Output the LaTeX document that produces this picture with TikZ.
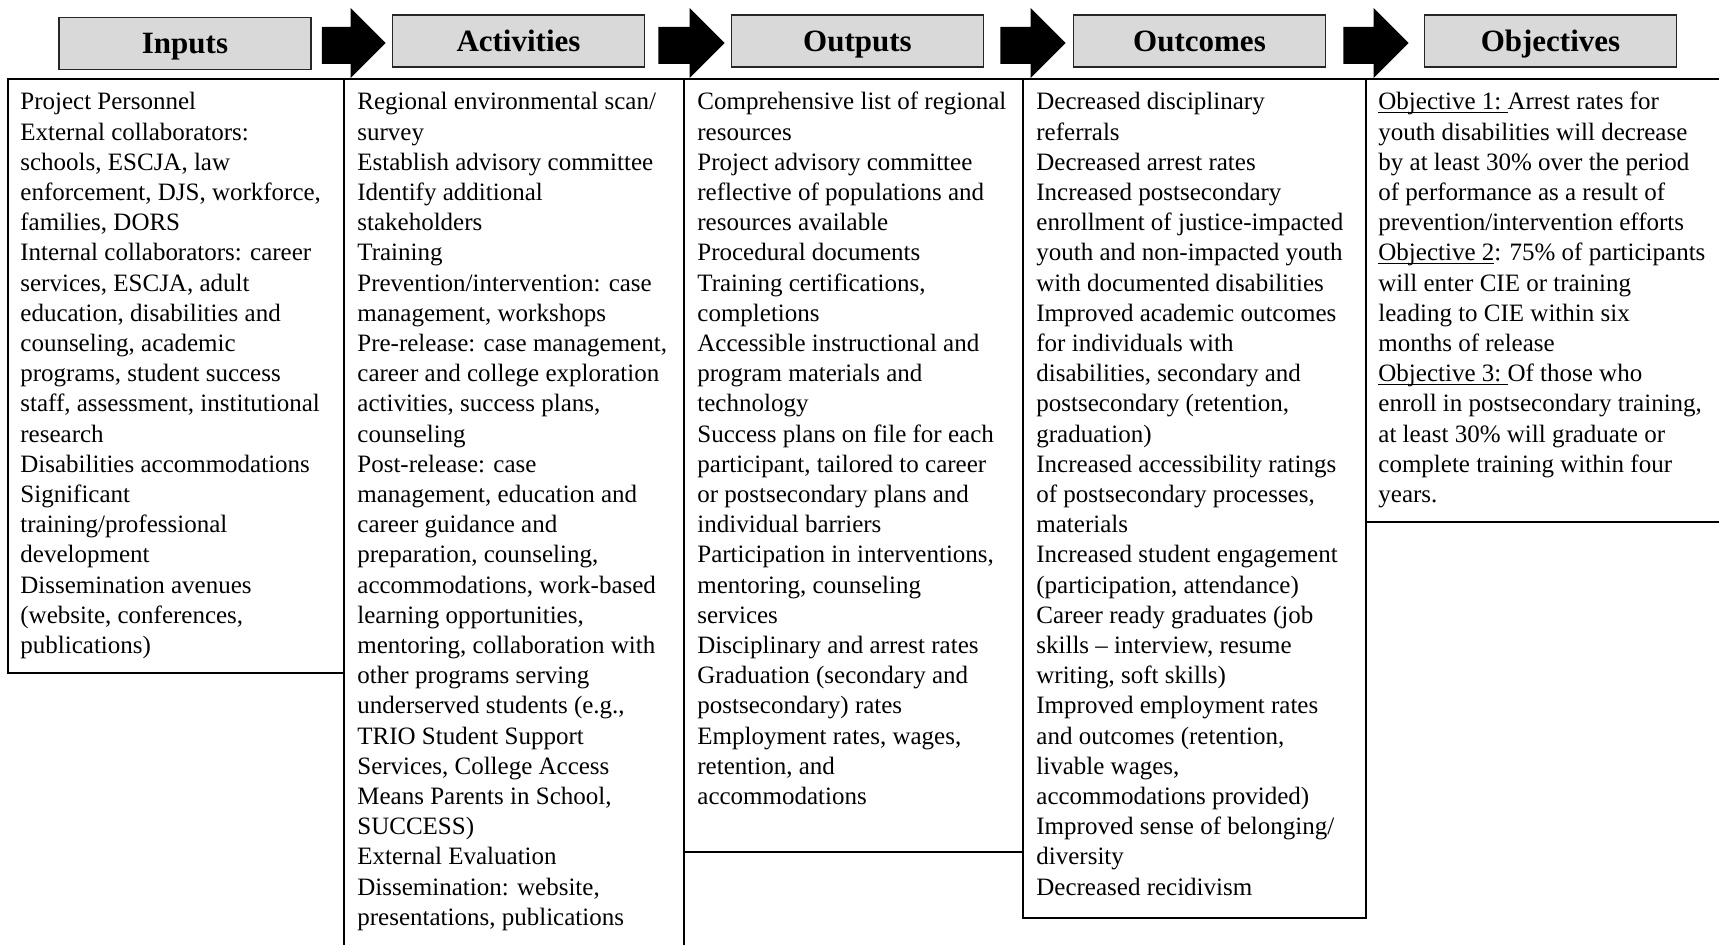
\documentclass[tikz,border=0pt]{standalone}
\usepackage{fontspec}
\setmainfont{Liberation Serif}
\usetikzlibrary{calc}

\definecolor{headgray}{RGB}{217,217,217}

% one column of text, lines broken by hand
\newcommand{\colpar}[1]{\begin{tabular}[t]{@{}l@{}}#1\end{tabular}}
% underline set close to the baseline
\newcommand{\objline}[1]{\setbox0\hbox{#1}\rlap{\rule[-1.6pt]{\wd0}{0.55pt}}\box0}

\tikzset{
  header/.style={draw=black!85, line width=0.9pt, fill=headgray,
    minimum width=126pt, minimum height=26pt, inner sep=0pt,
    font=\fontsize{15.5pt}{18pt}\selectfont\bfseries,
    text height=10.5pt, text depth=0pt},
  colbox/.style={draw=black, line width=1pt},
  coltext/.style={anchor=base west, inner sep=0pt,
    font=\fontsize{12.5pt}{15.1pt}\selectfont},
  flowarrow/.style={fill=black},
}

\begin{document}
\begin{tikzpicture}[x=0.5pt, y=-0.5pt]
\useasboundingbox (0,0) rectangle (1719,945);

% column frames
\draw[colbox] (8,79) rectangle (344,673);
\draw[colbox] (344,79) rectangle (684,960);
\draw[colbox] (684,79) rectangle (1023,852);
\draw[colbox] (1023,79) rectangle (1366,918);
\draw[colbox] (1366,79) rectangle (1730,522);

% stage headers
\node[header] (inputs)     at (185,43.5)  {Inputs};
\node[header] (activities) at (518.5,41)  {Activities};
\node[header] (outputs)    at (857.5,41)  {Outputs};
\node[header] (outcomes)   at (1199.5,41) {Outcomes};
\node[header] (objectives) at (1550.5,41) {Objectives};

% block arrows between the headers
\foreach \a/\b/\s/\e in {inputs/activities/10/6, activities/outputs/13/6,
                         outputs/outcomes/16/7, outcomes/objectives/17/15}{
  \fill[flowarrow] let \p1=(\a.east), \p2=(\b.west) in
    (\x1+\s*0.5pt, -13.5pt) -- (\x2-\e*0.5pt-17.5pt, -13.5pt)
    -- (\x2-\e*0.5pt-17.5pt, -4pt) -- (\x2-\e*0.5pt, -21.5pt)
    -- (\x2-\e*0.5pt-17.5pt, -39pt) -- (\x2-\e*0.5pt-17.5pt, -32pt)
    -- (\x1+\s*0.5pt, -32pt) -- cycle;
}

% column contents
\node[coltext] (inputsText) at (20,110) {\colpar{%
Project Personnel\\
External collaborators:\\
schools, ESCJA, law\\
enforcement, DJS, workforce,\\
families, DORS\\
Internal collaborators: career\\
services, ESCJA, adult\\
education, disabilities and\\
counseling, academic\\
programs, student success\\
staff, assessment, institutional\\
research\\
Disabilities accommodations\\
Significant\\
training/professional\\
development\\
Dissemination avenues\\
(website, conferences,\\
publications)}};

\node[coltext] (activitiesText) at (357,110) {\colpar{%
Regional environmental scan/\\
survey\\
Establish advisory committee\\
Identify additional\\
stakeholders\\
Training\\
Prevention/intervention: case\\
management, workshops\\
Pre-release: case management,\\
career and college exploration\\
activities, success plans,\\
counseling\\
Post-release: case\\
management, education and\\
career guidance and\\
preparation, counseling,\\
accommodations, work-based\\
learning opportunities,\\
mentoring, collaboration with\\
other programs serving\\
underserved students (e.g.,\\
TRIO Student Support\\
Services, College Access\\
Means Parents in School,\\
SUCCESS)\\
External Evaluation\\
Dissemination: website,\\
presentations, publications}};

\node[coltext] (outputsText) at (697,110) {\colpar{%
Comprehensive list of regional\\
resources\\
Project advisory committee\\
reflective of populations and\\
resources available\\
Procedural documents\\
Training certifications,\\
completions\\
Accessible instructional and\\
program materials and\\
technology\\
Success plans on file for each\\
participant, tailored to career\\
or postsecondary plans and\\
individual barriers\\
Participation in interventions,\\
mentoring, counseling\\
services\\
Disciplinary and arrest rates\\
Graduation (secondary and\\
postsecondary) rates\\
Employment rates, wages,\\
retention, and\\
accommodations}};

\node[coltext] (outcomesText) at (1036,110) {\colpar{%
Decreased disciplinary\\
referrals\\
Decreased arrest rates\\
Increased postsecondary\\
enrollment of justice-impacted\\
youth and non-impacted youth\\
with documented disabilities\\
Improved academic outcomes\\
for individuals with\\
disabilities, secondary and\\
postsecondary (retention,\\
graduation)\\
Increased accessibility ratings\\
of postsecondary processes,\\
materials\\
Increased student engagement\\
(participation, attendance)\\
Career ready graduates (job\\
skills -- interview, resume\\
writing, soft skills)\\
Improved employment rates\\
and outcomes (retention,\\
livable wages,\\
accommodations provided)\\
Improved sense of belonging/\\
diversity\\
Decreased recidivism}};

\node[coltext] (objectivesText) at (1378,110) {\colpar{%
\objline{Objective 1:\ }Arrest rates for\\
youth disabilities will decrease\\
by at least 30\% over the period\\
of performance as a result of\\
prevention/intervention efforts\\
\objline{Objective 2}: 75\% of participants\\
will enter CIE or training\\
leading to CIE within six\\
months of release\\
\objline{Objective 3:\ }Of those who\\
enroll in postsecondary training,\\
at least 30\% will graduate or\\
complete training within four\\
years.}};
\end{tikzpicture}
\end{document}
